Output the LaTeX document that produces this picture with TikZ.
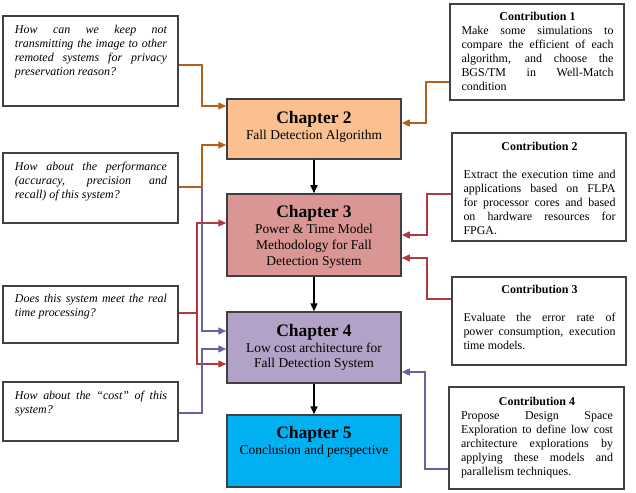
\documentclass[tikz,border=0pt]{standalone}
\usepackage{fontspec}
\setmainfont{Liberation Serif}
\usetikzlibrary{arrows.meta,calc}
\definecolor{c2fill}{HTML}{FAC090}
\definecolor{c3fill}{HTML}{D99694}
\definecolor{c4fill}{HTML}{B3A2C7}
\definecolor{c5fill}{HTML}{00B0F0}
\definecolor{orangeline}{HTML}{B3621B}
\definecolor{redline}{HTML}{B03A3E}
\definecolor{purpleline}{HTML}{6B5FA5}
\definecolor{boxline}{HTML}{404040}
\newcommand{\justsetup}{\hyphenpenalty=10000\relax\exhyphenpenalty=10000\relax\tolerance=10000\relax}
\tikzset{
  qbox/.style={draw=boxline, line width=1.2bp, fill=white, inner sep=0pt},
  chbox/.style={draw=boxline, line width=1.5bp, inner sep=0pt, minimum width=174bp},
  chtext/.style={anchor=north, inner sep=0pt, align=center, font=\fontsize{13.5}{16}\selectfont},
  smalltext/.style={anchor=north, inner sep=0pt, text width=152bp, align=justify,
    font=\fontsize{12}{14}\selectfont\justsetup},
  conn/.style={line width=1.3bp, -{Triangle[length=8bp,width=7bp]}},
  down/.style={line width=1.5bp, black, -{Triangle[length=8bp,width=7bp]}},
}
\newcommand{\chtitle}[1]{{\fontsize{17.6}{16}\selectfont\bfseries #1}}
\begin{document}
\begin{tikzpicture}[x=1bp,y=-1bp]
\useasboundingbox (0,0) rectangle (636,493);
% question boxes
\node[qbox, minimum width=175bp, minimum height=90bp] (q1) at (90.5,61) {};
\node[qbox, minimum width=175bp, minimum height=70bp] (q2) at (90.5,188) {};
\node[qbox, minimum width=175bp, minimum height=57bp] (q3) at (90.5,314.5) {};
\node[qbox, minimum width=175bp, minimum height=59bp] (q4) at (90.5,411.5) {};
\node[smalltext] (q1t) at ($(q1.north)+(0.5,9.5)$) {\itshape How can we keep not\linebreak transmitting the image to other\linebreak remoted systems for privacy\linebreak preservation reason?};
\node[smalltext] (q2t) at ($(q2.north)+(0.5,9.5)$) {\itshape How about the performance\linebreak (accuracy, precision and\linebreak recall) of this system?};
\node[smalltext] (q3t) at ($(q3.north)+(0.5,8.5)$) {\itshape Does this system meet the real\linebreak time processing?};
\node[smalltext] (q4t) at ($(q4.north)+(0.5,9.5)$) {\itshape How about the ``cost'' of this\linebreak system?};
% chapter boxes
\node[chbox, fill=c2fill, minimum height=60bp] (ch2) at (314,129) {};
\node[chbox, fill=c3fill, minimum height=82bp] (ch3) at (314,235) {};
\node[chbox, fill=c4fill, minimum height=71bp] (ch4) at (314,347.5) {};
\node[chbox, fill=c5fill, minimum height=72bp] (ch5) at (314,451) {};
\node[chtext] (ch2t) at ($(ch2.north)+(0,13)$) {\chtitle{Chapter 2}\\Fall Detection Algorithm};
\node[chtext] (ch3t) at ($(ch3.north)+(0,12)$) {\chtitle{Chapter 3}\\Power \& Time Model\\Methodology for Fall\\Detection System};
\node[chtext] (ch4t) at ($(ch4.north)+(0,12.5)$) {\chtitle{Chapter 4}\\Low cost architecture for\\Fall Detection System};
\node[chtext] (ch5t) at ($(ch5.north)+(0,12)$) {\chtitle{Chapter 5}\\Conclusion and perspective};
% contribution boxes
\node[qbox, minimum width=174bp, minimum height=96bp] (c1) at (537,52) {};
\node[qbox, minimum width=174bp, minimum height=108bp] (c2) at (539,187) {};
\node[qbox, minimum width=174bp, minimum height=88bp] (c3) at (539,321) {};
\node[qbox, minimum width=175bp, minimum height=102bp] (c4) at (536.5,438) {};
\node[smalltext] (c1t) at ($(c1.north)+(0.5,9)$) {{\centering\bfseries Contribution 1\par}Make some simulations to\linebreak compare the efficient of each\linebreak algorithm, and choose the\linebreak BGS/TM in Well-Match\linebreak condition};
\node[smalltext] (c2t) at ($(c2.north)+(0.5,9.5)$) {{\centering\bfseries Contribution 2\par}\vspace{14bp}Extract the execution time and\linebreak applications based on FLPA\linebreak for processor cores and based\linebreak on hardware resources for\linebreak FPGA.};
\node[smalltext] (c3t) at ($(c3.north)+(0.5,9)$) {{\centering\bfseries Contribution 3\par}\vspace{14bp}Evaluate the error rate of\linebreak power consumption, execution\linebreak time models.};
\node[smalltext] (c4t) at ($(c4.north)+(0.5,10.5)$) {{\centering\bfseries Contribution 4\par}Propose Design Space\linebreak Exploration to define low cost\linebreak architecture explorations by\linebreak applying these models and\linebreak parallelism techniques.};
% vertical flow
\draw[down] (ch2.south) -- (ch3.north);
\draw[down] (ch3.south) -- (ch4.north);
\draw[down] (ch4.south) -- (ch5.north);
% left connectors
\draw[conn, orangeline] (q1.east |- 0,65) -- (202,65) -- (202,106) -- (ch2.west |- 0,106);
\draw[conn, orangeline] (q2.east |- 0,187) -- (202,187) -- (202,145) -- (ch2.west |- 0,145);
\draw[conn, purpleline] (202,187) -- (202,331) -- (ch4.west |- 0,331);
\draw[conn, redline] (q3.east |- 0,313) -- (197,313) -- (197,223) -- (ch3.west |- 0,223);
\draw[conn, redline] (197,313) -- (197,364) -- (ch4.west |- 0,364);
\draw[conn, purpleline] (q4.east |- 0,413) -- (202,413) -- (202,349) -- (ch4.west |- 0,349);
% right connectors
\draw[conn, orangeline] (c1.west |- 0,82) -- (426,82) -- (426,123) -- (ch2.east |- 0,123);
\draw[conn, redline] (c2.west |- 0,194) -- (427,194) -- (427,235) -- (ch3.east |- 0,235);
\draw[conn, redline] (c3.west |- 0,299) -- (427,299) -- (427,258) -- (ch3.east |- 0,258);
\draw[conn, purpleline] (c4.west |- 0,469) -- (425,469) -- (425,372) -- (ch4.east |- 0,372);
\end{tikzpicture}
\end{document}
